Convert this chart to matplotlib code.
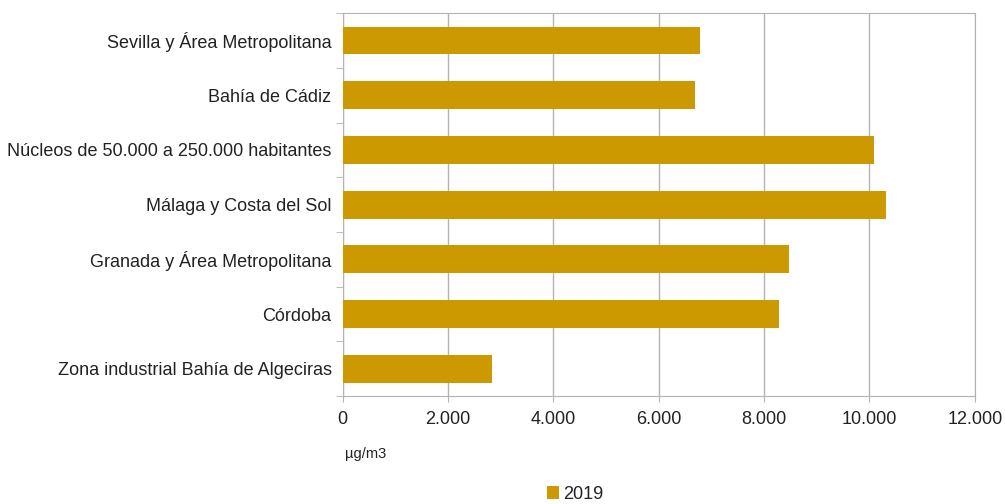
import numpy as np
import matplotlib.pyplot as plt

plt.rcParams['font.family'] = ['Liberation Sans', 'DejaVu Sans']

zonas = ['Sevilla y Área Metropolitana', 'Bahía de Cádiz',
         'Núcleos de 50.000 a 250.000 habitantes', 'Málaga y Costa del Sol',
         'Granada y Área Metropolitana', 'Córdoba',
         'Zona industrial Bahía de Algeciras']
valores_2019 = [6.78, 6.68, 10.09, 10.31, 8.48, 8.28, 2.83]
xticks = [0, 2, 4, 6, 8, 10, 12]
xlabels = ['0', '2.000', '4.000', '6.000', '8.000', '10.000', '12.000']

fig = plt.figure(figsize=(10.05, 5.04), dpi=100)
ax = fig.add_axes([0.341, 0.214, 0.629, 0.760])

y = np.arange(len(zonas))[::-1]
ax.barh(y, valores_2019, height=0.51, color='#cc9900', label='2019', zorder=3)

ax.set_xlim(0, 12)
ax.set_ylim(-0.5, len(zonas) - 0.5)
ax.set_xticks(xticks)
ax.set_xticklabels(xlabels, fontsize=13, color='#222222')
ax.set_yticks(y)
ax.set_yticklabels(zonas, fontsize=13, color='#222222')
ax.tick_params(axis='y', length=0, pad=8)
ax.tick_params(axis='x', length=4, color='#b3b3b3', pad=7)
ax.set_yticks(np.arange(len(zonas) + 1) - 0.5, minor=True)
ax.tick_params(axis='y', which='minor', length=5, color='#b3b3b3')
ax.grid(axis='x', color='#b3b3b3', linewidth=1, zorder=0)
for s in ax.spines.values():
    s.set_color('#b3b3b3')

fig.text(0.343, 0.092, 'µg/m3', fontsize=10.5, color='#222222')
fig.legend(loc='lower center', bbox_to_anchor=(0.572, -0.03), frameon=False,
           fontsize=13, handlelength=0.7, handleheight=0.7, handletextpad=0.2,
           labelcolor='#222222')

fig.savefig('out.png')
